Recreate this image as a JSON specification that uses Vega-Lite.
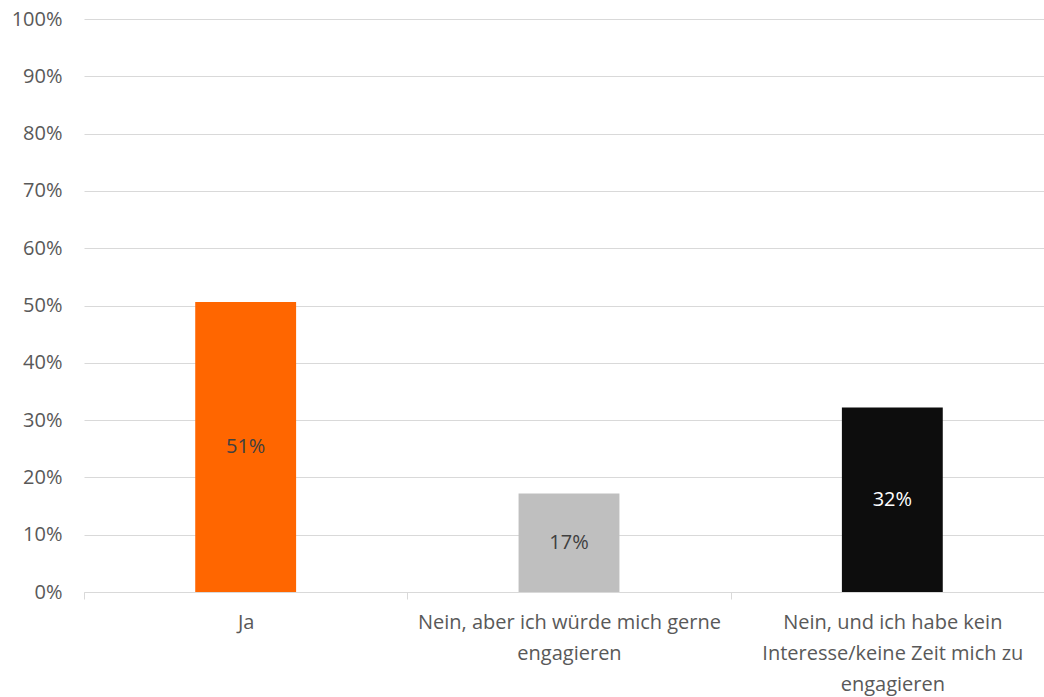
{
  "$schema": "https://vega.github.io/schema/vega-lite/v6.json",
  "autosize": {"type": "none"},
  "padding": {"left": 84, "top": 19, "right": 0, "bottom": 105},
  "width": 970,
  "height": 573,
  "background": "white",
  "config": {"view": {"stroke": null}, "font": "Open Sans"},
  "data": {"values": [
    {"antwort": "Ja", "anteil": 0.506, "label": "51%", "farbe": "Ja"},
    {"antwort": "Nein, aber ich würde mich gerne engagieren", "anteil": 0.172, "label": "17%", "farbe": "Nein1"},
    {"antwort": "Nein, und ich habe kein Interesse/keine Zeit mich zu engagieren", "anteil": 0.322, "label": "32%", "farbe": "Nein2"}
  ]},
  "transform": [{"calculate": "datum.anteil / 2", "as": "mitte"}],
  "encoding": {
    "x": {
      "field": "antwort", "type": "nominal", "sort": null,
      "scale": {"paddingInner": 0.688, "paddingOuter": 0.344},
      "axis": {
        "title": null, "labelAngle": 0, "labelFontSize": 20, "labelColor": "#595959",
        "labelFont": "Open Sans", "labelLineHeight": 31, "labelPadding": 13,
        "tickOffset": -161.67, "labelOffset": 161.67, "labelFlush": false, "labelOverlap": false,
        "tickSize": 7, "tickColor": "#d9d9d9", "tickWidth": 1,
        "domainColor": "#d9d9d9", "domainWidth": 1, "labelLimit": 400,
        "labelExpr": "datum.value == 'Ja' ? 'Ja' : (datum.value == 'Nein, aber ich würde mich gerne engagieren' ? ['Nein, aber ich würde mich gerne', 'engagieren'] : (datum.value == 'Nein, und ich habe kein Interesse/keine Zeit mich zu engagieren' ? ['Nein, und ich habe kein', 'Interesse/keine Zeit mich zu', 'engagieren'] : ''))"
      }
    }
  },
  "layer": [
    {
      "mark": {"type": "bar"},
      "encoding": {
        "y": {
          "field": "anteil", "type": "quantitative",
          "scale": {"domain": [0, 1], "nice": false},
          "axis": {
            "title": null, "format": ".0%", "values": [0, 0.1, 0.2, 0.3, 0.4, 0.5, 0.6, 0.7, 0.8, 0.9, 1],
            "labelFontSize": 20, "labelColor": "#595959", "labelFont": "Open Sans",
            "labelPadding": 22, "ticks": false, "domain": false,
            "gridColor": "#d9d9d9", "gridWidth": 1
          }
        },
        "color": {
          "field": "farbe", "type": "nominal", "legend": null,
          "scale": {"domain": ["Ja", "Nein1", "Nein2"], "range": ["#ff6600", "#bfbfbf", "#0d0d0d"]}
        }
      }
    },
    {
      "mark": {"type": "text", "fontSize": 20, "font": "Open Sans", "baseline": "middle", "align": "center"},
      "encoding": {
        "y": {"field": "mitte", "type": "quantitative", "scale": {"domain": [0, 1], "nice": false}},
        "text": {"field": "label", "type": "nominal"},
        "color": {
          "field": "farbe", "type": "nominal", "legend": null,
          "scale": {"domain": ["Ja", "Nein1", "Nein2"], "range": ["#404040", "#404040", "#ffffff"]}
        }
      }
    }
  ],
  "resolve": {"scale": {"color": "independent"}}
}
